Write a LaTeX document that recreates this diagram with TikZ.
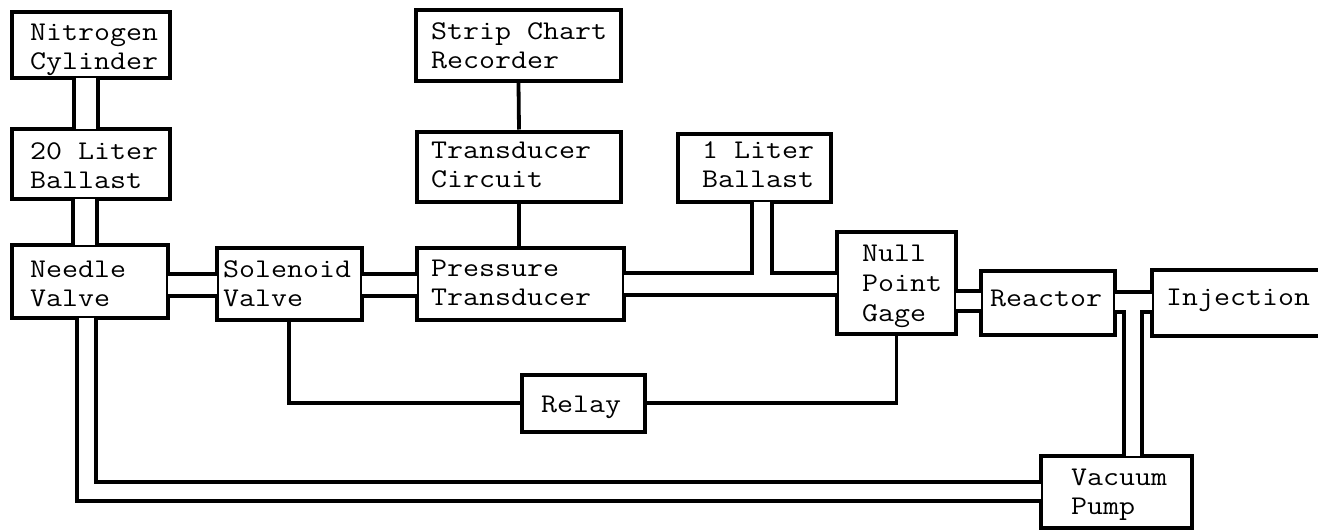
\documentclass[tikz,border=0pt]{standalone}
\usetikzlibrary{fit}
\begin{document}
\begin{tikzpicture}[x=1pt,y=-1pt,
  box/.style={draw, line width=4pt, fill=white, inner sep=0pt, rectangle},
  pipe/.style={draw=black, line width=4pt, double=white, double distance=#1, shorten <=-2pt, shorten >=-2pt},
  wire/.style={draw, line width=3.8pt},
  lbl/.style={anchor=base west, inner sep=0pt, align=left, font=\fontsize{27}{29}\selectfont\ttfamily, xscale=1.15, transform shape}]
\useasboundingbox (0,0) rectangle (1318,530);
\clip (0,0) rectangle (1318,530);
% boxes
\node[box, fit={(12,12) (170,78)}] (n2) {};
\node[box, fit={(12,128.5) (170,199)}] (l20) {};
\node[box, fit={(12,245) (168,317.5)}] (nv) {};
\node[box, fit={(216.5,248) (362,320)}] (sv) {};
\node[box, fit={(416,10) (621,81)}] (sc) {};
\node[box, fit={(417,131.5) (621,201.5)}] (tc) {};
\node[box, fit={(678,133.5) (831,201.5)}] (l1) {};
\node[box, fit={(417,248) (624,320)}] (pt) {};
\node[box, fit={(837,232) (956,334)}] (ng) {};
\node[box, fit={(981,270.5) (1115,335)}] (re) {};
\node[box, fit={(1152,270) (1335,335.5)}] (ij) {};
\node[box, fit={(1041,456) (1192,528)}] (vp) {};
\node[box, fit={(522,375) (644.5,431.5)}] (rl) {};
% junction points
\coordinate (tee1) at (762,273);
\coordinate (tee2) at (1133,312);
% pipes
\draw[pipe=20pt] (n2.south -| 85.5,0) -- (l20.north -| 85.5,0);
\draw[pipe=20pt] (l20.south -| 85,0) -- (nv.north -| 85,0);
\draw[pipe=15pt] (nv.south -| 86,0) |- (vp.west |- 0,491);
\draw[pipe=18pt] (nv.east |- 0,285) -- (sv.west |- 0,285);
\draw[pipe=18pt] (sv.east |- 0,285) -- (pt.west |- 0,285);
\draw[pipe=18pt] (pt.east |- 0,284) -- (ng.west |- 0,284);
\draw[pipe=16pt] (l1.south -| tee1) -- (tee1);
\draw[pipe=16pt] (ng.east |- 0,300.5) -- (re.west |- 0,300.5);
\draw[pipe=16pt] (re.east |- 0,302) -- (ij.west |- 0,302);
\draw[pipe=14pt] (tee2) -- (vp.north -| tee2);
% wires
\draw[wire] (sc.south) -- (tc.north);
\draw[wire] (tc.south) -- (pt.north -| tc.south);
\draw[wire] (sv.south) |- (rl.west);
\draw[wire] (rl.east) -| (ng.south);
% labels (anchor = baseline of last line)
\node[lbl] (t1) at (30,69) {Nitrogen\\Cylinder};
\node[lbl] (t2) at (30,188) {20 Liter\\Ballast};
\node[lbl] (t3) at (30,306) {Needle\\Valve};
\node[lbl] (t4) at (223,306) {Solenoid\\Valve};
\node[lbl] (t5) at (431,68) {Strip Chart\\Recorder};
\node[lbl] (t6) at (431,187) {Transducer\\Circuit};
\node[lbl] (t7) at (702,187) {1 Liter\\Ballast};
\node[lbl] (t8) at (431,305) {Pressure\\Transducer};
\node[lbl, font=\fontsize{27}{30}\selectfont\ttfamily] (t9) at (862,321) {Null\\Point\\Gage};
\node[lbl] (t10) at (990,306) {Reactor};
\node[lbl] (t11) at (1166,305) {Injection};
\node[lbl] (t12) at (1071,514) {Vacuum\\Pump};
\node[lbl] (t13) at (541,412) {Relay};
\end{tikzpicture}
\end{document}
